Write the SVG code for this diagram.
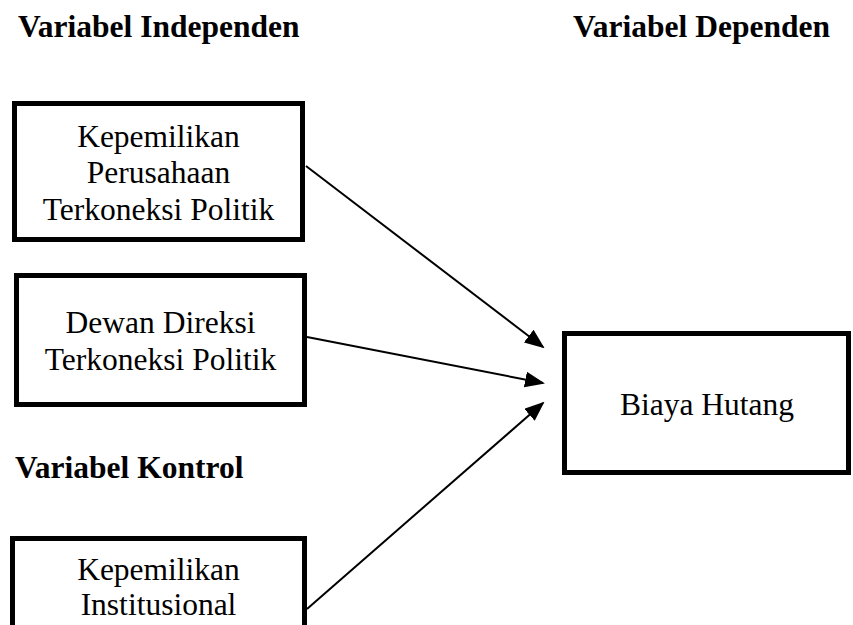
<svg xmlns="http://www.w3.org/2000/svg" width="853" height="625" viewBox="0 0 853 625">
<style>
.box{fill:#fff;stroke:#000;stroke-width:5}
.t{font-family:"Liberation Serif","Times New Roman",serif;font-size:31.5px;fill:#000;text-anchor:middle}
.h{font-family:"Liberation Serif","Times New Roman",serif;font-size:31.5px;font-weight:bold;fill:#000}
.c{stroke:#000;stroke-width:2;fill:none}
</style>
<defs>
<marker id="ah" markerWidth="10" markerHeight="8" refX="9" refY="4" orient="auto" markerUnits="strokeWidth">
<path d="M0,0 L10,4 L0,8 Z" fill="#000"/>
</marker>
</defs>
<rect width="853" height="625" fill="#fff"/>
<text class="h" x="18" y="37">Variabel Independen</text>
<text class="h" x="573" y="37">Variabel Dependen</text>
<text class="h" x="15" y="478">Variabel Kontrol</text>
<g id="kepemilikan-perusahaan">
<rect class="box" x="14.5" y="103.5" width="288" height="136"/>
<text class="t" x="158.5" y="146.5">Kepemilikan</text>
<text class="t" x="158.5" y="183">Perusahaan</text>
<text class="t" x="158.5" y="220">Terkoneksi Politik</text>
</g>
<g id="dewan-direksi">
<rect class="box" x="16.5" y="275.5" width="288" height="129"/>
<text class="t" x="160.5" y="333">Dewan Direksi</text>
<text class="t" x="160.5" y="370">Terkoneksi Politik</text>
</g>
<g id="kepemilikan-institusional">
<rect class="box" x="12.5" y="538.5" width="292" height="120"/>
<text class="t" x="158.5" y="580">Kepemilikan</text>
<text class="t" x="158.5" y="615">Institusional</text>
</g>
<g id="biaya-hutang">
<rect class="box" x="564.5" y="333.5" width="284" height="139"/>
<text class="t" x="707" y="415">Biaya Hutang</text>
</g>
<g id="connectors">
<line class="c" x1="306" y1="166" x2="543" y2="347" marker-end="url(#ah)"/>
<line class="c" x1="307" y1="337" x2="543" y2="383" marker-end="url(#ah)"/>
<line class="c" x1="307" y1="609" x2="543" y2="403" marker-end="url(#ah)"/>
</g>
</svg>
